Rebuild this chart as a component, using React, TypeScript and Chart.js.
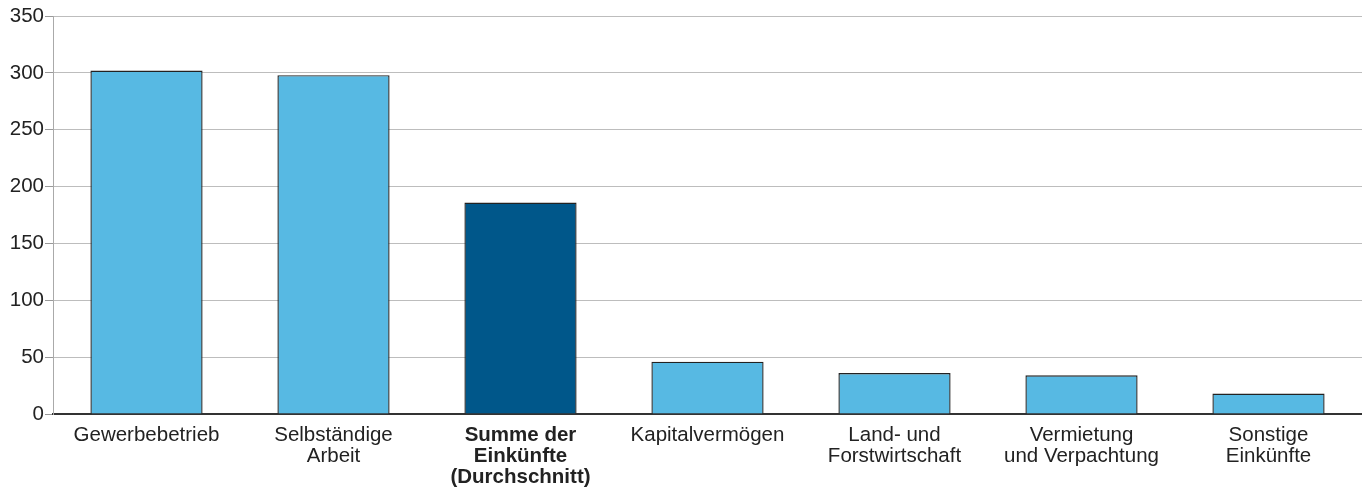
import React, { useEffect, useRef } from "react";
import { Chart, registerables } from "chart.js";

Chart.register(...registerables);

const categories: string[][] = [
  ["Gewerbebetrieb"],
  ["Selbständige", "Arbeit"],
  ["Summe der", "Einkünfte", "(Durchschnitt)"],
  ["Kapitalvermögen"],
  ["Land- und", "Forstwirtschaft"],
  ["Vermietung", "und Verpachtung"],
  ["Sonstige", "Einkünfte"],
];
const values: number[] = [302, 298, 186, 46, 36, 34, 18];
const highlightIndex = 2;
const yTicks: number[] = [0, 50, 100, 150, 200, 250, 300, 350];

const LIGHT = "#57B9E3";
const DARK = "#00578A";
const FONT = "'Liberation Sans', Arial, Helvetica, sans-serif";

export default function App() {
  const ref = useRef<HTMLCanvasElement>(null);
  useEffect(() => {
    document.body.style.margin = "0";
    const chart = new Chart(ref.current!, {
      type: "bar",
      data: {
        labels: categories,
        datasets: [
          {
            data: values,
            backgroundColor: values.map((_, i) => (i === highlightIndex ? DARK : LIGHT)),
            borderColor: "#222",
            borderWidth: 1.4,
            barPercentage: 0.6,
            categoryPercentage: 1,
          },
        ],
      },
      options: {
        animation: false,
        responsive: false,
        maintainAspectRatio: false,
        layout: { padding: { top: 16, right: 0, left: 0, bottom: 0 } },
        plugins: { legend: { display: false }, tooltip: { enabled: false } },
        scales: {
          x: {
            grid: { display: false, drawTicks: false },
            border: { color: "#333", width: 2 },
            ticks: {
              color: "#222",
              padding: 11,
              maxRotation: 0,
              autoSkip: false,
              font: (ctx: any) => ({
                family: FONT,
                size: 20.5,
                lineHeight: 1.03,
                weight: ctx.index === highlightIndex ? "bold" : "normal",
              }),
            },
            afterFit: (s: any) => {
              s.height = 74;
            },
          },
          y: {
            min: 0,
            max: 350,
            afterBuildTicks: (s: any) => {
              s.ticks = yTicks.map((v) => ({ value: v }));
            },
            grid: { color: "#bdbdbd", lineWidth: 1, tickLength: 8, tickColor: "#999" },
            border: { color: "#aaa", width: 1 },
            ticks: {
              color: "#222",
              padding: 1,
              font: { family: FONT, size: 20.5 },
            },
            afterFit: (s: any) => {
              s.width = 53;
            },
          },
        },
      },
    });
    return () => chart.destroy();
  }, []);
  return (
    <div style={{ width: 1362, height: 488 }}>
      <canvas ref={ref} width={1362} height={488} style={{ display: "block" }} />
    </div>
  );
}
